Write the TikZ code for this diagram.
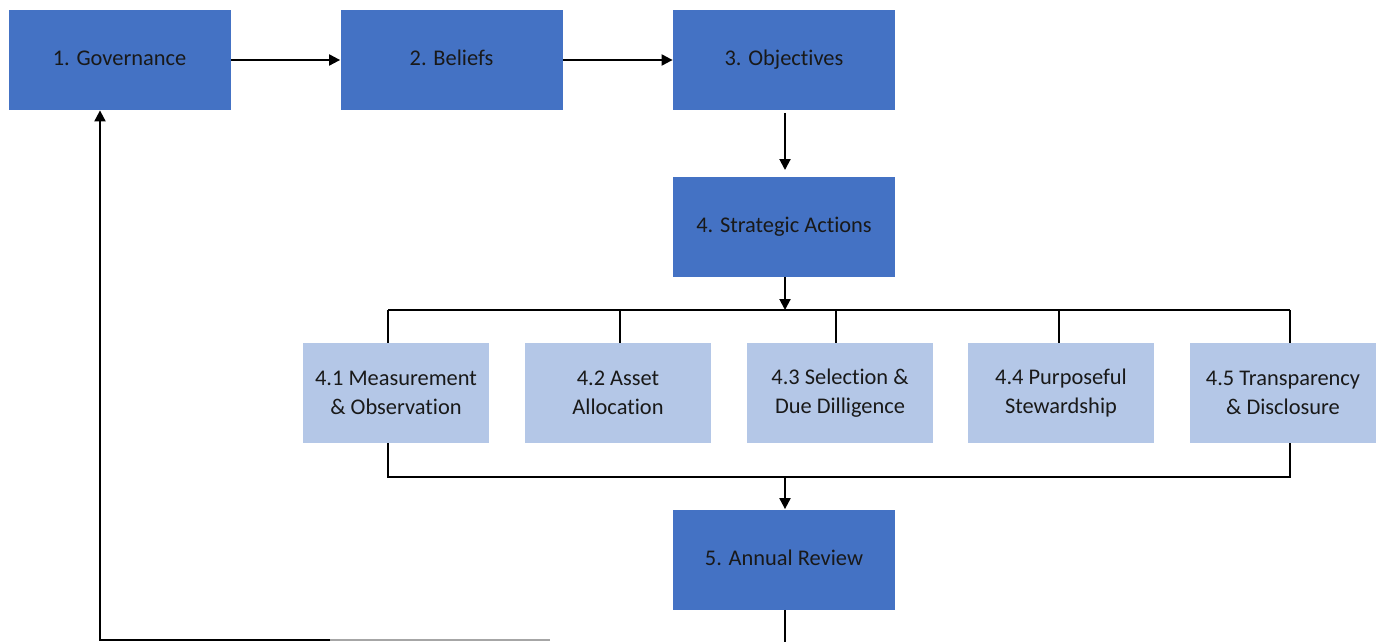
\documentclass[tikz,border=0pt]{standalone}
\usepackage{fontspec}
\setmainfont{Carlito}[Ligatures=NoCommon]
\usetikzlibrary{arrows.meta}
\definecolor{darkbox}{HTML}{4472C4}
\definecolor{lightbox}{HTML}{B4C7E7}
\begin{document}
\begin{tikzpicture}[x=0.5pt,y=-0.5pt,
  mainbox/.style={fill=darkbox,minimum width=111pt,minimum height=50pt,inner sep=0pt,text height=8pt,text depth=2.5pt,font=\fontsize{11.2}{13}\selectfont,text=black!90},
  subbox/.style={fill=lightbox,minimum width=93pt,minimum height=50pt,inner sep=0pt,align=center,font=\fontsize{11.2}{14.5}\selectfont,text=black!90},
  conn/.style={line width=1pt,black},
  arr/.style={conn,-{Triangle[length=5.5pt,width=5.5pt]}}]
\useasboundingbox (0,0) rectangle (1381,642);
\node[mainbox] (gov) at (119.5,60) {1. Governance};
\node[mainbox] (bel) at (451.5,60) {2. Beliefs};
\node[mainbox] (obj) at (784,60) {3. Objectives};
\node[mainbox] (sa) at (784,226.5) {4. Strategic Actions};
\node[subbox] (s1) at (396,393) {4.1 Measurement\\\& Observation};
\node[subbox] (s2) at (618,393) {4.2 Asset\\Allocation};
\node[subbox] (s3) at (840,393) {4.3 Selection \&\\Due Dilligence};
\node[subbox] (s4) at (1061,393) {4.4 Purposeful\\Stewardship};
\node[subbox] (s5) at (1283,393) {4.5 Transparency\\\& Disclosure};
\node[mainbox] (ar) at (784,559.5) {5. Annual Review};
\coordinate (top) at (785,310);
\coordinate (bot) at (785,477);
\coordinate (tl) at (388,310);
\coordinate (tr) at (1290,310);
\coordinate (bl) at (388,477);
\coordinate (br) at (1290,477);
\coordinate (arend) at (785,642);
\coordinate (fb) at (550,640);
\coordinate (fm) at (330,640);
\coordinate (fc) at (100,640);
\draw[arr] (gov.east) -- (bel.west);
\draw[arr] (bel.east) -- ++(2,0) -- (obj.west);
\draw[arr] (785,113) -- (785,170);
\draw[arr] (sa.south -| top) -- (top);
\draw[conn] (tl) -- (tr);
\draw[conn] (tl) -- (tl |- s1.north);
\draw[conn] (620,310) -- (620,343);
\draw[conn] (836,310) -- (836,343);
\draw[conn] (1059,310) -- (1059,343);
\draw[conn] (tr) -- (tr |- s5.north);
\draw[conn] (s1.south -| bl) -- (bl) -- (br) -- (s5.south -| br);
\draw[arr] (bot) -- (bot |- ar.north);
\draw[conn] (ar.south -| arend) -- (arend);
\draw[line width=1pt,black!35] (fb) -- (fm);
\draw[arr] (fm) -- (fc) -- (fc |- gov.south);
\end{tikzpicture}
\end{document}
